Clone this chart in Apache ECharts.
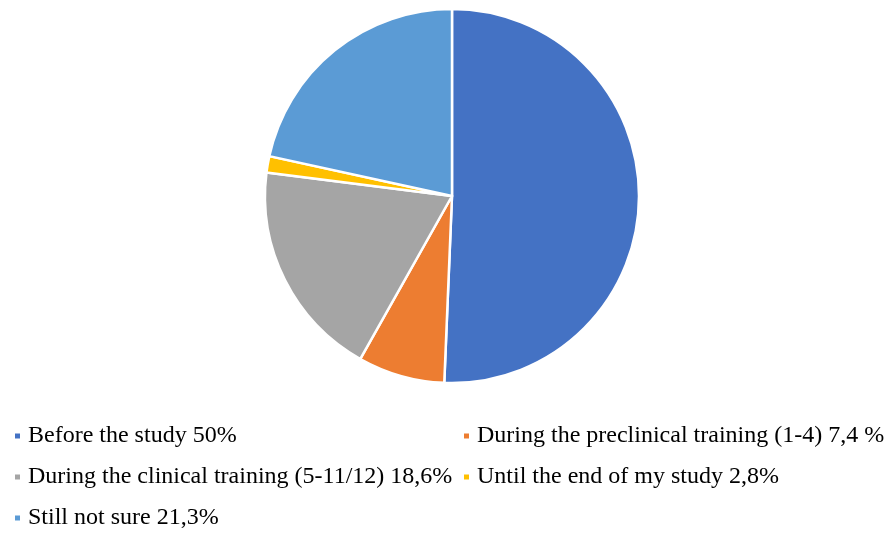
<!DOCTYPE html>
<html>
<head>
<meta charset="utf-8">
<script src="https://cdn.jsdelivr.net/npm/echarts@6/dist/echarts.min.js"></script>
<style>
  html, body { margin: 0; padding: 0; background: #fff; }
  #chart { width: 888px; height: 534px; }
</style>
</head>
<body>
<div id="chart"></div>
<script>
const categories = [
  'Before the study 50%',
  'During the preclinical training (1-4) 7,4 %',
  'During the clinical training (5-11/12) 18,6%',
  'Until the end of my study 2,8%',
  'Still not sure 21,3%'
]
// slice sizes as drawn in the picture
const values = [50, 7.4, 18.6, 1.4, 21.3]
const colors = ['#4472C4', '#ED7D31', '#A5A5A5', '#FFC000', '#5B9BD5']

const chart = echarts.init(document.getElementById('chart'))

const legendBase = {
  orient: 'vertical',
  icon: 'rect',
  itemWidth: 7,
  itemHeight: 7,
  itemGap: 17,
  padding: 0,
  height: 130,
  selectedMode: false,
  textStyle: { fontFamily: 'Liberation Serif', fontSize: 24, color: '#000', padding: [0, 0, 0, 2] }
}

chart.setOption({
  animation: false,
  color: colors,
  legend: [
    Object.assign({}, legendBase, { left: 13, top: 424, data: [categories[0], categories[2], categories[4]] }),
    Object.assign({}, legendBase, { left: 462, top: 424, data: [categories[1], categories[3]] })
  ],
  series: [{
    type: 'pie',
    center: [452, 196],
    radius: [0, 187],
    startAngle: 90,
    clockwise: true,
    label: { show: false },
    labelLine: { show: false },
    itemStyle: { borderColor: '#fff', borderWidth: 2.5 },
    data: categories.map((name, i) => ({ name, value: values[i] }))
  }]
})
</script>
</body>
</html>
